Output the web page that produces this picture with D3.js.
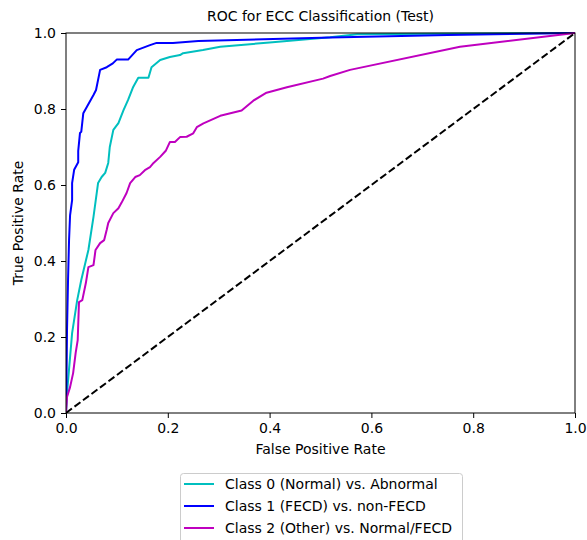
<!DOCTYPE html>
<html>
<head>
<meta charset="utf-8">
<script src="https://cdn.jsdelivr.net/npm/d3@7"></script>
<style>
  html, body { margin: 0; padding: 0; background: #fff; }
  svg { display: block; font-family: "DejaVu Sans", sans-serif; }
</style>
</head>
<body>
<div id="chart"></div>
<script>
// ---- Data ----
const title = "ROC for ECC Classification (Test)";
const xLabel = "False Positive Rate";
const yLabel = "True Positive Rate";
const tickValues = [0, 0.2, 0.4, 0.6, 0.8, 1.0];
const seriesNames = [
  "Class 0 (Normal) vs. Abnormal",
  "Class 1 (FECD) vs. non-FECD",
  "Class 2 (Other) vs. Normal/FECD"
];
const seriesColors = ["#00BFBF", "#0000FF", "#BF00BF"];

const fprClass0 = [0, 0.003, 0.012, 0.022, 0.030, 0.044, 0.054, 0.063, 0.070, 0.077, 0.083, 0.086, 0.093, 0.103, 0.113, 0.122, 0.132, 0.142, 0.162, 0.168, 0.178, 0.185, 0.204, 0.224, 0.230, 0.269, 0.303, 0.400, 0.519, 0.572, 1.0];
const tprClass0 = [0, 0.068, 0.210, 0.297, 0.350, 0.429, 0.516, 0.605, 0.621, 0.632, 0.658, 0.700, 0.745, 0.763, 0.797, 0.824, 0.858, 0.882, 0.882, 0.910, 0.921, 0.929, 0.937, 0.942, 0.947, 0.955, 0.964, 0.975, 0.989, 0.997, 1.0];

const fprClass1 = [0, 0.001, 0.002, 0.004, 0.006, 0.008, 0.012, 0.012, 0.016, 0.024, 0.024, 0.0275, 0.030, 0.034, 0.054, 0.059, 0.067, 0.080, 0.092, 0.0996, 0.122, 0.139, 0.165, 0.178, 0.210, 0.260, 0.520, 0.750, 1.0];
const tprClass1 = [0, 0.087, 0.218, 0.350, 0.455, 0.520, 0.560, 0.605, 0.640, 0.660, 0.690, 0.737, 0.740, 0.789, 0.837, 0.850, 0.903, 0.910, 0.920, 0.930, 0.930, 0.955, 0.968, 0.974, 0.974, 0.979, 0.988, 0.995, 1.0];

const fprClass2 = [0, 0.002, 0.008, 0.014, 0.019, 0.023, 0.0255, 0.032, 0.039, 0.044, 0.054, 0.058, 0.067, 0.075, 0.080, 0.083, 0.093, 0.103, 0.109, 0.119, 0.126, 0.136, 0.145, 0.155, 0.165, 0.172, 0.185, 0.196, 0.204, 0.214, 0.224, 0.237, 0.250, 0.257, 0.270, 0.303, 0.345, 0.368, 0.394, 0.434, 0.505, 0.519, 0.558, 0.774, 1.0];
const tprClass2 = [0, 0.042, 0.068, 0.105, 0.158, 0.192, 0.292, 0.297, 0.342, 0.384, 0.389, 0.429, 0.447, 0.455, 0.482, 0.500, 0.526, 0.539, 0.553, 0.579, 0.605, 0.621, 0.626, 0.639, 0.647, 0.658, 0.674, 0.690, 0.713, 0.713, 0.726, 0.727, 0.736, 0.752, 0.762, 0.782, 0.796, 0.822, 0.843, 0.857, 0.880, 0.887, 0.903, 0.964, 1.0];

const chanceFpr = [0, 1];
const chanceTpr = [0, 1];

// ---- Layout ----
const W = 587, H = 540;
const plot = { left: 66, right: 575, top: 33, bottom: 413 };
const fontSize = 14;

const svg = d3.select("#chart").append("svg")
  .attr("width", W).attr("height", H);

const x = d3.scaleLinear().domain([0, 1]).range([plot.left, plot.right]);
const y = d3.scaleLinear().domain([0, 1]).range([plot.bottom, plot.top]);

svg.append("clipPath").attr("id", "clip")
  .append("rect")
  .attr("x", plot.left).attr("y", plot.top - 1)
  .attr("width", plot.right - plot.left).attr("height", plot.bottom - plot.top + 1);

const series = [
  { name: seriesNames[0], color: seriesColors[0], fpr: fprClass0, tpr: tprClass0 },
  { name: seriesNames[1], color: seriesColors[1], fpr: fprClass1, tpr: tprClass1 },
  { name: seriesNames[2], color: seriesColors[2], fpr: fprClass2, tpr: tprClass2 }
];

const line = d3.line().x(d => x(d[0])).y(d => y(d[1]));

const g = svg.append("g").attr("clip-path", "url(#clip)");

series.forEach(s => {
  g.append("path")
    .datum(s.fpr.map((f, i) => [f, s.tpr[i]]))
    .attr("fill", "none")
    .attr("stroke", s.color)
    .attr("stroke-width", 2)
    .attr("stroke-linejoin", "round")
    .attr("d", line);
});

g.append("path")
  .datum(chanceFpr.map((f, i) => [f, chanceTpr[i]]))
  .attr("fill", "none")
  .attr("stroke", "#000")
  .attr("stroke-width", 2)
  .attr("stroke-dasharray", "7.4,3.2")
  .attr("d", line);

// Axes
const xAxis = svg.append("g")
  .attr("transform", `translate(0,${plot.bottom})`)
  .call(d3.axisBottom(x).tickValues(tickValues).tickFormat(d3.format(".1f")).tickSize(5).tickPadding(5).tickSizeOuter(0));
const yAxis = svg.append("g")
  .attr("transform", `translate(${plot.left},0)`)
  .call(d3.axisLeft(y).tickValues(tickValues).tickFormat(d3.format(".1f")).tickSize(5).tickPadding(5).tickSizeOuter(0));
[xAxis, yAxis].forEach(a => {
  a.select(".domain").remove();
  a.selectAll("text").attr("font-size", fontSize).attr("font-family", "DejaVu Sans").attr("fill", "#000");
  a.selectAll("line").attr("stroke", "#000").attr("stroke-width", 1);
});

// Frame
svg.append("rect")
  .attr("x", plot.left).attr("y", plot.top)
  .attr("width", plot.right - plot.left).attr("height", plot.bottom - plot.top)
  .attr("fill", "none").attr("stroke", "#000").attr("stroke-width", 1);

// Title and labels
svg.append("text")
  .attr("x", (plot.left + plot.right) / 2).attr("y", 21)
  .attr("text-anchor", "middle").attr("font-size", fontSize)
  .text(title);
svg.append("text")
  .attr("x", (plot.left + plot.right) / 2).attr("y", 454)
  .attr("text-anchor", "middle").attr("font-size", fontSize)
  .text(xLabel);
svg.append("text")
  .attr("transform", `translate(23,${(plot.top + plot.bottom) / 2}) rotate(-90)`)
  .attr("text-anchor", "middle").attr("font-size", fontSize)
  .text(yLabel);

// Legend
const leg = svg.append("g");
leg.append("rect")
  .attr("x", 180.5).attr("y", 473.5)
  .attr("width", 282).attr("height", 70)
  .attr("rx", 3)
  .attr("fill", "#fff").attr("fill-opacity", 0.8)
  .attr("stroke", "#cccccc").attr("stroke-width", 1);
series.forEach((s, i) => {
  const cy = 484 + i * 22;
  leg.append("line")
    .attr("x1", 184).attr("x2", 214)
    .attr("y1", cy).attr("y2", cy)
    .attr("stroke", s.color).attr("stroke-width", 2);
  leg.append("text")
    .attr("x", 225).attr("y", cy + 5)
    .attr("font-size", fontSize)
    .text(s.name);
});
</script>
</body>
</html>
